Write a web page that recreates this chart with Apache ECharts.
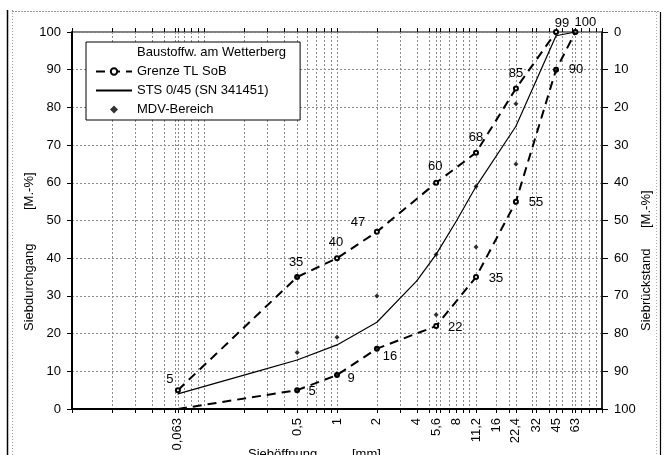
<!DOCTYPE html>
<html><head><meta charset="utf-8">
<script src="https://cdn.jsdelivr.net/npm/echarts@6/dist/echarts.min.js"></script>
<style>html,body{margin:0;padding:0;background:#fff}#c{width:667px;height:455px}</style>
</head><body><div id="c"></div>
<script>
// ---------- data ----------
const sieveTicks = [0.063, 0.5, 1, 2, 4, 5.6, 8, 11.2, 16, 22.4, 32, 45, 63];
const upperLimit = [[0.063,5],[0.5,35],[1,40],[2,47],[5.6,60],[11.2,68],[22.4,85],[45,100]];
const lowerLimit = [[0.063,0],[0.5,5],[1,9],[2,16],[5.6,22],[11.2,35],[22.4,55],[45,90],[63,100]];
const stsCurve = [[0.063,4],[0.25,10],[0.5,13],[1,17],[2,23],[4,34],[5.6,41],[8,50],[11.2,59],[22.4,75],[45,99],[63,100]];
const mdvPoints = [[0.5,5],[0.5,15],[0.5,35],[1,9],[1,19],[2,16],[2,30],[5.6,25],[5.6,41],[11.2,43],[11.2,59],[22.4,65],[22.4,81],[45,90]];
const seriesNames = ['Baustoffw. am Wetterberg', 'Grenze TL SoB', 'STS 0/45 (SN 341451)', 'MDV-Bereich'];

// ---------- style ----------
const FONT = "'Liberation Sans', Arial, sans-serif";
const upperLabelOffsets = [[-8,-11],[-1,-15],[-1,-16],[-19,-9],[-1,-16],[0,-15],[0,-15],null];
const lowerLabelOffsets = ['hide',[15,1],[14,3],[13,8],[19,1],[20,1],[20,1],[20,0],[10,-10]];
const stsLabelOffsets = [null,null,null,null,null,null,null,null,null,null,[6,-12],null];
const gridMinor = [];
for (let e = -2; e <= 1; e++) for (let m = 1; m <= 9; m++) gridMinor.push(+(m * Math.pow(10, e)).toPrecision(3));
gridMinor.push(100);
const gridLines = gridMinor.concat(sieveTicks);

function withLabels(data, offsets) {
  return data.map((d, i) => {
    const o = offsets[i];
    if (o === 'hide') return { value: d, symbol: 'none' };
    if (!o) return { value: d };
    return { value: d, label: { show: true, position: 'inside', offset: o } };
  });
}
const labelStyle = { color: '#000', fontSize: 13, fontFamily: FONT, formatter: p => p.value[1] };
const gridStyle = { show: true, lineStyle: { color: '#8a8a8a', type: [2, 2], width: 1 } };
const dash = [9, 6];

const chart = echarts.init(document.getElementById('c'), null, { renderer: 'canvas' });
chart.setOption({
  animation: false,
  backgroundColor: '#fff',
  textStyle: { fontFamily: FONT },
  grid: { left: 72, right: 65, top: 32, bottom: 46, show: true, borderColor: '#000', borderWidth: 1, backgroundColor: 'transparent' },
  legend: {
    orient: 'vertical', left: 86, top: 42,
    padding: [4, 14, 4, 9], itemGap: 6, itemWidth: 36, itemHeight: 8,
    borderColor: '#000', borderWidth: 1, backgroundColor: '#fff',
    textStyle: { color: '#000', fontSize: 13, fontFamily: FONT },
    data: [
      { name: seriesNames[0], icon: 'none' },
      { name: seriesNames[1] },
      { name: seriesNames[2], itemStyle: { opacity: 0 } },
      { name: seriesNames[3], icon: 'path://M5,1L9,5L5,9L1,5Z' }
    ]
  },
  xAxis: [{
    type: 'log', logBase: 10, min: 0.01, max: 100, position: 'bottom',
    axisLine: { show: true, lineStyle: { color: '#000', width: 2 } },
    axisTick: { show: true, inside: false, length: 4, customValues: gridLines, lineStyle: { color: '#000', width: 1 } },
    axisLabel: {
      show: true, customValues: sieveTicks, rotate: 90, margin: 9,
      color: '#000', fontSize: 13, fontFamily: FONT,
      formatter: v => String(+(+v).toPrecision(4)).replace('.', ',')
    },
    splitLine: gridStyle, minorTick: { show: false }, minorSplitLine: { show: false }
  }, {
    type: 'log', logBase: 10, min: 0.01, max: 100, position: 'bottom',
    axisLine: { show: false },
    axisTick: { show: true, inside: true, length: 4, customValues: gridLines, lineStyle: { color: '#000', width: 1 } },
    axisLabel: { show: false }, splitLine: { show: false }
  }],
  yAxis: [{
    type: 'value', min: 0, max: 100, interval: 10, position: 'left',
    axisLine: { show: true, lineStyle: { color: '#000', width: 2 } },
    axisTick: { show: true, length: 5, lineStyle: { color: '#000' } },
    axisLabel: { color: '#000', fontSize: 13, fontFamily: FONT, margin: 11 },
    splitLine: gridStyle
  }, {
    type: 'value', min: 0, max: 100, interval: 10, position: 'right', inverse: true,
    axisLine: { show: true, lineStyle: { color: '#000', width: 1.5 } },
    axisTick: { show: true, length: 6, lineStyle: { color: '#000' } },
    axisLabel: { color: '#000', fontSize: 13, fontFamily: FONT, margin: 12 },
    splitLine: { show: false }
  }],
  series: [
    { name: seriesNames[0], type: 'line', data: [], symbol: 'none', lineStyle: { opacity: 0 } },
    {
      name: seriesNames[1], type: 'line', data: withLabels(upperLimit, upperLabelOffsets),
      symbol: 'emptyCircle', symbolSize: 4, showAllSymbol: true,
      itemStyle: { color: '#000', borderWidth: 1 },
      lineStyle: { color: '#000', width: 2, type: dash },
      label: labelStyle, z: 3
    },
    {
      name: seriesNames[1], type: 'line', data: withLabels(lowerLimit, lowerLabelOffsets),
      symbol: 'emptyCircle', symbolSize: 4, showAllSymbol: true,
      itemStyle: { color: '#000', borderWidth: 1 },
      lineStyle: { color: '#000', width: 2, type: dash },
      label: labelStyle, z: 3
    },
    {
      name: seriesNames[2], type: 'line', data: withLabels(stsCurve, stsLabelOffsets),
      symbol: 'circle', symbolSize: 1, showAllSymbol: true,
      lineStyle: { color: '#000', width: 1.2 },
      itemStyle: { color: '#000' },
      label: labelStyle, z: 4
    },
    {
      name: seriesNames[3], type: 'scatter', data: mdvPoints,
      symbol: 'diamond', symbolSize: 5, itemStyle: { color: '#000' }, z: 5
    }
  ],
  graphic: [
    { type: 'line', shape: { x1: 7.5, y1: 10, x2: 7.5, y2: 455 }, style: { stroke: '#000', lineWidth: 1.5 } },
    { type: 'line', shape: { x1: 12.5, y1: 10, x2: 12.5, y2: 455 }, style: { stroke: '#999', lineWidth: 1, lineDash: [1, 2] } },
    { type: 'line', shape: { x1: 12, y1: 11.5, x2: 660, y2: 11.5 }, style: { stroke: '#999', lineWidth: 1, lineDash: [2, 1] } },
    { type: 'line', shape: { x1: 660.5, y1: 12, x2: 660.5, y2: 455 }, style: { stroke: '#000', lineWidth: 1.2 } },
    { type: 'line', shape: { x1: 656.5, y1: 12, x2: 656.5, y2: 455 }, style: { stroke: '#aaa', lineWidth: 1, lineDash: [1, 2] } },
    { type: 'text', x: 29, y: 331, rotation: Math.PI / 2, style: { text: 'Siebdurchgang', font: '13px ' + FONT, fill: '#000', textAlign: 'left', textVerticalAlign: 'middle' } },
    { type: 'text', x: 29, y: 210, rotation: Math.PI / 2, style: { text: '[M.-%]', font: '13px ' + FONT, fill: '#000', textAlign: 'left', textVerticalAlign: 'middle' } },
    { type: 'text', x: 646, y: 331, rotation: Math.PI / 2, style: { text: 'Siebrückstand', font: '13px ' + FONT, fill: '#000', textAlign: 'left', textVerticalAlign: 'middle' } },
    { type: 'text', x: 646, y: 228, rotation: Math.PI / 2, style: { text: '[M.-%]', font: '13px ' + FONT, fill: '#000', textAlign: 'left', textVerticalAlign: 'middle' } },
    { type: 'text', x: 248, y: 454, style: { text: 'Sieböffnung', font: '13px ' + FONT, fill: '#000', textAlign: 'left', textVerticalAlign: 'middle' } },
    { type: 'text', x: 352, y: 454, style: { text: '[mm]', font: '13px ' + FONT, fill: '#000', textAlign: 'left', textVerticalAlign: 'middle' } }
  ]
});
</script></body></html>
